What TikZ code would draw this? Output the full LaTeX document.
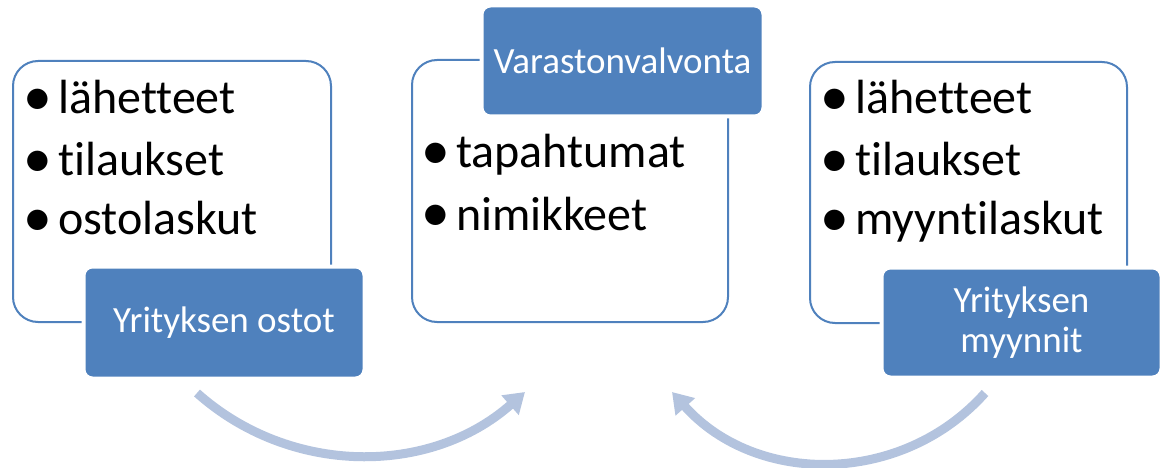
\documentclass[tikz,border=0pt]{standalone}
\usepackage{fontspec}
\setmainfont{Carlito}[Ligatures=CommonOff]
\usetikzlibrary{arrows.meta}
\definecolor{accent}{HTML}{4F81BD}
\definecolor{flow}{HTML}{B3C3DE}
% bullet centred 8.5pt from the item start, text 29pt from it
\newcommand{\bul}{\hspace*{8.5pt}\makebox[0pt]{\raisebox{-1.6pt}{\scalebox{1.2}{•}}}\hspace*{20.5pt}}

\begin{document}
\begin{tikzpicture}[x=1pt,y=-1pt,
  panel/.style={draw=accent, line width=2pt, rounded corners=25pt, fill=white,
    anchor=north west, inner sep=0pt, outer sep=0pt},
  tag/.style={fill=accent, draw=white, line width=4pt, rounded corners=9pt,
    text=white, font=\fontsize{37}{40}\selectfont, align=center,
    anchor=north west, inner sep=0pt, outer sep=0pt},
  item/.style={anchor=base west, inner sep=0pt, font=\fontsize{48}{56}\selectfont},
  flowarrow/.style={draw=flow, line width=9pt, -{Triangle[length=20pt,width=25pt]}}
]
\useasboundingbox (0,0) rectangle (1163,468);

% panels
\node[panel, minimum width=318pt, minimum height=261pt] (buyp) at (13,61) {};
\node[panel, minimum width=316pt, minimum height=262pt] (stockp) at (412,60) {};
\node[panel, minimum width=317pt, minimum height=261pt] (sellp) at (810,62) {};

% headings
\node[tag, minimum width=281pt, minimum height=112pt] (buyt) at (83.5,266.5) {Yrityksen ostot};
\node[tag, minimum width=282pt, minimum height=111pt] (stockt) at (481.5,5.5) {Varastonvalvonta};
\node[tag, minimum width=280pt, minimum height=110pt] (sellt) at (881.5,267.5) {Yrityksen\\myynnit};

% bullet lists
\node[item] (b1) at (29,114) {\bul lähetteet};
\node[item] (b2) at (29,176) {\bul tilaukset};
\node[item] (b3) at (29,235) {\bul ostolaskut};

\node[item] (s1) at (427,168) {\bul tapahtumat};
\node[item] (s2) at (427,230) {\bul nimikkeet};

\node[item] (m1) at (826,114) {\bul lähetteet};
\node[item] (m2) at (826,176) {\bul tilaukset};
\node[item] (m3) at (826,235) {\bul myyntilaskut};

% flow arrows
\coordinate (f1a) at (197,393);
\coordinate (f1b) at (525,392);
\coordinate (f2a) at (985,393);
\coordinate (f2b) at (672,392);
\draw[flowarrow] (f1a) .. controls (290,476) and (430,476) .. (f1b);
\draw[flowarrow] (f2a) .. controls (902,486) and (756,486) .. (f2b);
\end{tikzpicture}
\end{document}
